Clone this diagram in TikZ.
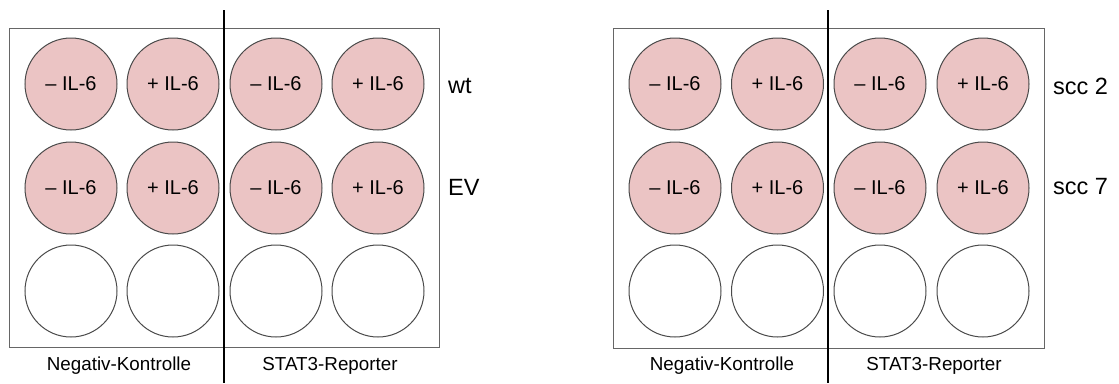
\documentclass[tikz,border=0pt]{standalone}
\usepackage{fontspec}
\setmainfont{Liberation Sans}
\definecolor{wellpink}{HTML}{EBC4C4}
\definecolor{rimgray}{HTML}{4A4A4A}
\definecolor{boxgray}{HTML}{666666}
\begin{document}
\begin{tikzpicture}[x=1pt,y=-1pt,
  well/.style={circle,draw=rimgray,line width=1pt,minimum size=92pt,inner sep=0pt,
    font=\fontsize{20}{23}\selectfont},
  treated/.style={well,fill=wellpink},
  empty/.style={well,fill=white},
  plate/.style={draw=boxgray,line width=1pt},
  divider/.style={draw=black,line width=1.6pt},
  rowlabel/.style={anchor=west,inner sep=0pt,font=\fontsize{23.5}{27}\selectfont},
  grouplabel/.style={inner sep=0pt,font=\fontsize{18.8}{22}\selectfont}]
\useasboundingbox (0,0) rectangle (1119,383);

% left plate
\node[plate,minimum width=430pt,minimum height=319pt,inner sep=0pt] (plateA) at (224,187.5) {};
\foreach \c/\x in {1/71,2/173,3/276,4/378}{
  \node[empty] (A3\c) at (\x,291) {};
}
\foreach \r/\y in {1/84,2/188}{
  \node[treated] (A\r1) at (71,\y) {– IL-6};
  \node[treated] (A\r2) at (173,\y) {+ IL-6};
  \node[treated] (A\r3) at (276,\y) {– IL-6};
  \node[treated] (A\r4) at (378,\y) {+ IL-6};
}
\coordinate (divAtop) at (224,10);
\coordinate (divAbot) at (224,383);
\draw[divider] (divAtop) -- (divAbot);
\node[rowlabel] (wt) at (448,86) {wt};
\node[rowlabel] (ev) at (448,187) {EV};
\node[grouplabel] (negA) at (119,366) {Negativ-Kontrolle};
\node[grouplabel] (repA) at (330,366) {STAT3-Reporter};

% right plate
\node[plate,minimum width=431pt,minimum height=320pt,inner sep=0pt] (plateB) at (828.5,188) {};
\foreach \c/\x in {1/675,2/777.5,3/880,4/983}{
  \node[empty] (B3\c) at (\x,291) {};
}
\foreach \r/\y in {1/84,2/188}{
  \node[treated] (B\r1) at (675,\y) {– IL-6};
  \node[treated] (B\r2) at (777.5,\y) {+ IL-6};
  \node[treated] (B\r3) at (880,\y) {– IL-6};
  \node[treated] (B\r4) at (983,\y) {+ IL-6};
}
\coordinate (divBtop) at (828,10);
\coordinate (divBbot) at (828,383);
\draw[divider] (divBtop) -- (divBbot);
\node[rowlabel] (scc2) at (1053,86) {scc 2};
\node[rowlabel] (scc7) at (1053,187) {scc 7};
\node[grouplabel] (negB) at (722,366) {Negativ-Kontrolle};
\node[grouplabel] (repB) at (934,366) {STAT3-Reporter};
\end{tikzpicture}
\end{document}
